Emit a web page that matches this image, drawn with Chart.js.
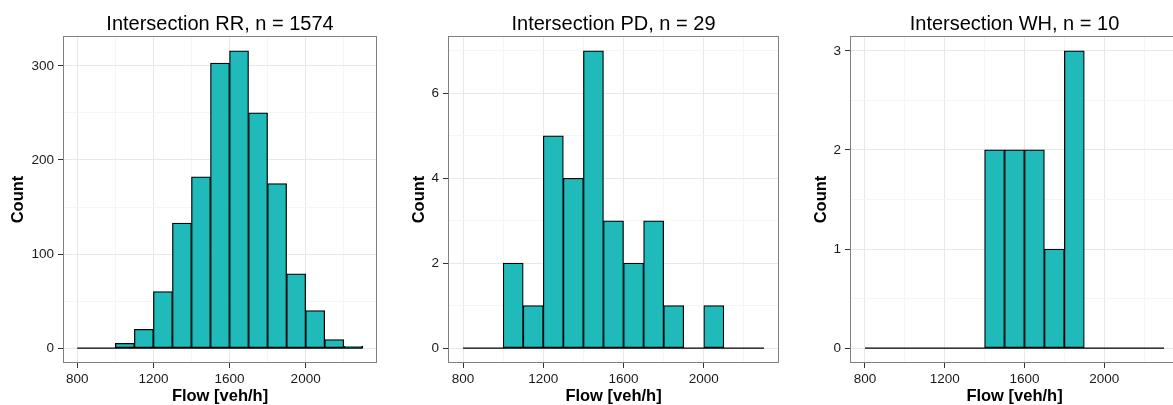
<!DOCTYPE html>
<html>
<head>
<meta charset="utf-8">
<script src="https://cdn.jsdelivr.net/npm/chart.js@4"></script>
<style>
  html, body { margin: 0; padding: 0; background: #fff; overflow: hidden; }
  #wrap { position: relative; width: 1173px; height: 405px; overflow: hidden; }
  canvas { position: absolute; top: 0; }
</style>
</head>
<body>
<div id="wrap">
  <canvas id="rr"></canvas>
  <canvas id="pd"></canvas>
  <canvas id="wh"></canvas>
</div>
<script>
// histogram bins, 100 veh/h wide
var binStarts = [800, 900, 1000, 1100, 1200, 1300, 1400, 1500, 1600, 1700, 1800, 1900, 2000, 2100, 2200];
var binWidth = 100;

var countsRR = [0, 0, 5, 20, 60, 133, 182, 303, 316, 250, 175, 79, 40, 9, 2];
var countsPD = [0, 0, 2, 1, 5, 4, 7, 3, 2, 3, 1, 0, 1, 0, 0];
var countsWH = [0, 0, 0, 0, 0, 0, 2, 2, 2, 1, 3, 0, 0, 0, 0];

var xTickLabels = [800, 1200, 1600, 2000];
var xMinorTicks = [1000, 1400, 1800, 2200];
var yTicksRR = [0, 100, 200, 300];
var yTicksPD = [0, 2, 4, 6];
var yTicksWH = [0, 1, 2, 3];

var GUTTER = 70;
var FILL = '#21baba';
Chart.defaults.font.family = "'Liberation Sans', Arial, Helvetica, sans-serif";

// grey frame round the plot panel, like theme_bw
var panelBox = {
  id: 'panelBox',
  afterDraw: function(chart) {
    var a = chart.chartArea, c = chart.ctx;
    c.save();
    c.strokeStyle = '#808080';
    c.lineWidth = 1;
    c.strokeRect(Math.round(a.left) + 0.5, Math.round(a.top) + 0.5,
                 Math.round(a.right - a.left) - 1, Math.round(a.bottom - a.top) - 1);
    c.restore();
  }
};

function makePanel(id, name, counts, yTicks, plotLeft, plotRight, countOffset) {
  var canvas = document.getElementById(id);
  canvas.width = plotRight - plotLeft + 2 * GUTTER;
  canvas.height = 405;
  canvas.style.left = (plotLeft - GUTTER) + 'px';

  var lastEdge = binStarts[binStarts.length - 1] + binWidth;
  var span = lastEdge - binStarts[0];
  var top = Math.max.apply(null, counts);
  var n = counts.reduce(function(a, b) { return a + b; }, 0);
  var step = yTicks[1] - yTicks[0];
  var yMinor = yTicks.map(function(v) { return v + step / 2; })
                     .filter(function(v) { return v <= top * 1.05; });
  var xAll = xTickLabels.concat(xMinorTicks).sort(function(a, b) { return a - b; });
  var yAll = yTicks.concat(yMinor).sort(function(a, b) { return a - b; });

  function gridCol(majors) {
    return function(ctx) { return majors.indexOf(ctx.tick.value) >= 0 ? '#e8e8e8' : '#f5f5f5'; };
  }
  function tickCol(majors) {
    return function(ctx) { return majors.indexOf(ctx.tick.value) >= 0 ? '#333' : 'rgba(0,0,0,0)'; };
  }

  return new Chart(canvas, {
    type: 'bar',
    data: {
      datasets: [
        {
          type: 'line',
          data: [{ x: binStarts[0], y: 0 }, { x: lastEdge, y: 0 }],
          borderColor: '#000',
          borderWidth: 1.4,
          pointRadius: 0,
          order: 0
        },
        {
          data: binStarts.map(function(b, i) { return { x: b + binWidth / 2, y: counts[i] }; }),
          backgroundColor: FILL,
          borderColor: '#000',
          borderWidth: 1.25,
          borderSkipped: false,
          barPercentage: 1,
          categoryPercentage: 1,
          order: 1
        }
      ]
    },
    options: {
      responsive: false,
      animation: false,
      devicePixelRatio: 1,
      layout: { padding: 0 },
      plugins: {
        legend: { display: false },
        tooltip: { enabled: false },
        title: {
          display: true,
          text: name + ', n = ' + n,
          color: '#000',
          font: { size: 20, weight: 'normal', lineHeight: 1.2 },
          padding: { top: 12, bottom: 0 }
        }
      },
      scales: {
        x: {
          type: 'linear',
          min: binStarts[0] - 0.05 * span,
          max: lastEdge + 0.05 * span,
          offset: false,
          afterBuildTicks: function(s) { s.ticks = xAll.map(function(v) { return { value: v }; }); },
          afterFit: function(s) { s.height = 42; },
          border: { display: false },
          grid: { offset: false, color: gridCol(xTickLabels), tickColor: tickCol(xTickLabels), tickLength: 5 },
          ticks: {
            autoSkip: false, maxRotation: 0, padding: 3, color: '#1a1a1a', font: { size: 13.5 },
            callback: function(v) { return xTickLabels.indexOf(v) >= 0 ? String(v) : ''; }
          },
          title: {
            display: true, text: 'Flow [veh/h]', color: '#000',
            font: { size: 16.5, weight: 'bold', lineHeight: 1 }, padding: 0
          }
        },
        y: {
          min: -0.05 * top,
          max: 1.05 * top,
          afterBuildTicks: function(s) { s.ticks = yAll.map(function(v) { return { value: v }; }); },
          afterFit: function(s) { s.width = GUTTER; },
          border: { display: false },
          grid: { color: gridCol(yTicks), tickColor: tickCol(yTicks), tickLength: 5 },
          ticks: {
            autoSkip: false, padding: 4, color: '#1a1a1a', font: { size: 13.5 },
            callback: function(v) { return yTicks.indexOf(v) >= 0 ? String(v) : ''; }
          },
          title: {
            display: true, text: 'Count', color: '#000',
            font: { size: 16.5, weight: 'bold', lineHeight: 1 },
            padding: { top: GUTTER - countOffset - 8.25, bottom: 0 }
          }
        },
        // empty right-hand spacer so the title centres over the panel
        spacer: {
          position: 'right',
          display: true,
          afterFit: function(s) { s.width = GUTTER; },
          grid: { display: false },
          border: { display: false },
          ticks: { display: false }
        }
      }
    },
    plugins: [panelBox]
  });
}

makePanel('rr', 'Intersection RR', countsRR, yTicksRR, 63, 377, 45);
makePanel('pd', 'Intersection PD', countsPD, yTicksPD, 448, 779, 29);
makePanel('wh', 'Intersection WH', countsWH, yTicksWH, 850, 1179, 29);
</script>
</body>
</html>
